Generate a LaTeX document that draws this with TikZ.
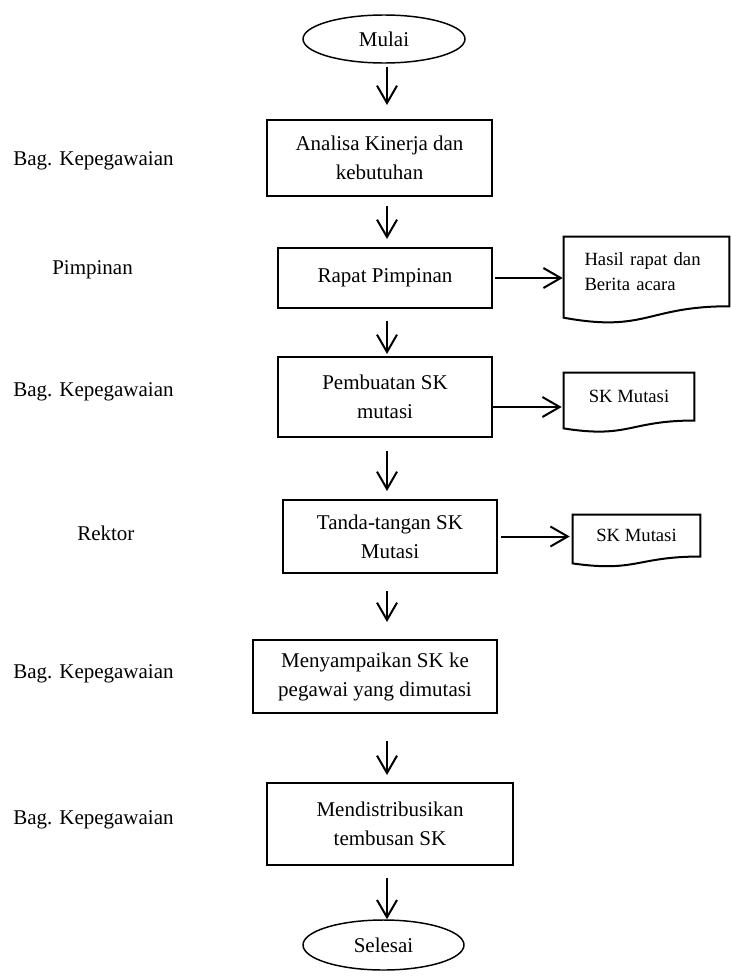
\documentclass[tikz,border=0pt]{standalone}
\usepackage{fontspec}
\setmainfont{Liberation Serif}
\usepackage{tikz}
\usetikzlibrary{shapes.geometric, arrows.meta, calc}
\tikzset{
  box/.style={rectangle, draw=black, line width=1.5pt, align=center,
    inner sep=0pt, font=\fontsize{15.75}{21.75}\selectfont},
  term/.style={ellipse, draw=black, line width=1.1pt, inner sep=0pt,
    font=\fontsize{15.75}{21.75}\selectfont},
  doc/.style={rectangle, inner sep=0pt,
    font=\fontsize{14}{18.75}\selectfont},
  docline/.style={line width=1.5pt, line join=miter},
  lane/.style={anchor=west, inner sep=0pt,
    font=\fontsize{15.75}{21.75}\selectfont},
  arrow/.style={-{Straight Barb[length=13pt, width=15pt]}, line width=1.5pt},
  line/.style={line width=1.5pt}
}

\begin{document}
\begin{tikzpicture}[x=0.75pt, y=-0.75pt]
  \useasboundingbox (0,0) rectangle (731,978);

  % main flow
  \node[term, minimum width=121.5pt, minimum height=36pt] (mulai) at (384,39) {Mulai};
  \node[box, minimum width=168.75pt, minimum height=57pt] (analisa) at (379.5,158)
    {Analisa Kinerja dan\\kebutuhan};
  \node[box, minimum width=160.5pt, minimum height=45pt] (rapat) at (385,278)
    {Rapat Pimpinan};
  \node[box, minimum width=160.5pt, minimum height=60pt] (pembuatan) at (385,397)
    {Pembuatan SK\\mutasi};
  \node[box, minimum width=160.5pt, minimum height=54.75pt] (tanda) at (390,536.5)
    {Tanda-tangan SK\\Mutasi};
  \node[box, minimum width=183pt, minimum height=54.75pt] (sampai) at (375,676.5)
    {Menyampaikan SK ke\\pegawai yang dimutasi};
  \node[box, minimum width=184.5pt, minimum height=61.5pt] (distribusi) at (390,824)
    {Mendistribusikan\\tembusan SK};
  \node[term, minimum width=120.75pt, minimum height=37.5pt] (selesai) at (383.5,945) {Selesai};

  % documents
  \node[doc, minimum width=123.75pt, minimum height=51.75pt, text width=93pt,
    align=left] (hasil) at (646.5,271.5) {Hasil rapat dan\\Berita acara};
  \node[doc, minimum width=97.5pt, minimum height=35.5pt] (skA) at (629,396.6) {SK Mutasi};
  \node[doc, minimum width=95.25pt, minimum height=31pt] (skB) at (636.5,535.6) {SK Mutasi};
  \foreach \d in {hasil,skA,skB}
    \draw[docline] (\d.north west) -- (\d.north east) -- (\d.south east)
      .. controls (\d.south) and ($(\d.south)!-0.3815!(\d.north)$)
      .. ($(\d.south west)!-0.1646!(\d.north west)$) -- cycle;

  % actors
  \node[lane] (bag1) at (13,161) {Bag. Kepegawaian};
  \node[lane] (pimpinan) at (52,270) {Pimpinan};
  \node[lane] (bag2) at (13,392) {Bag. Kepegawaian};
  \node[lane] (rektor) at (77,533) {Rektor};
  \node[lane] (bag3) at (13,674) {Bag. Kepegawaian};
  \node[lane] (bag4) at (13,820) {Bag. Kepegawaian};

  % vertical arrows
  \coordinate (col) at (387,0);
  \draw[arrow, shorten <=2.25pt, shorten >=10.5pt] (mulai.south -| col) -- (analisa.north -| col);
  \draw[arrow, shorten <=6.75pt, shorten >=6pt] (analisa.south -| col) -- (rapat.north -| col);
  \draw[arrow, shorten <=9pt, shorten >=1.5pt] (rapat.south -| col) -- (pembuatan.north -| col);
  \draw[arrow, shorten <=9.75pt, shorten >=6pt] (pembuatan.south -| col) -- (tanda.north -| col);
  \draw[arrow, shorten <=12.75pt, shorten >=12.75pt] (tanda.south -| col) -- (sampai.north -| col);
  \draw[arrow, shorten <=20.25pt, shorten >=5.25pt] (sampai.south -| col) -- (distribusi.north -| col);
  \draw[arrow, shorten <=9pt] (distribusi.south -| col) -- (selesai.north -| col);

  % side arrows
  \coordinate (pout) at ($(pembuatan.east)+(0,10)$);
  \draw[arrow, shorten <=1.5pt, shorten >=0.75pt] (rapat.east) -- (rapat.east -| hasil.west);
  \draw[arrow, shorten >=1.5pt] (pout) -- (pout -| skA.west);
  \draw[arrow, shorten <=2.25pt, shorten >=2.25pt] (tanda.east) -- (tanda.east -| skB.west);
\end{tikzpicture}
\end{document}
